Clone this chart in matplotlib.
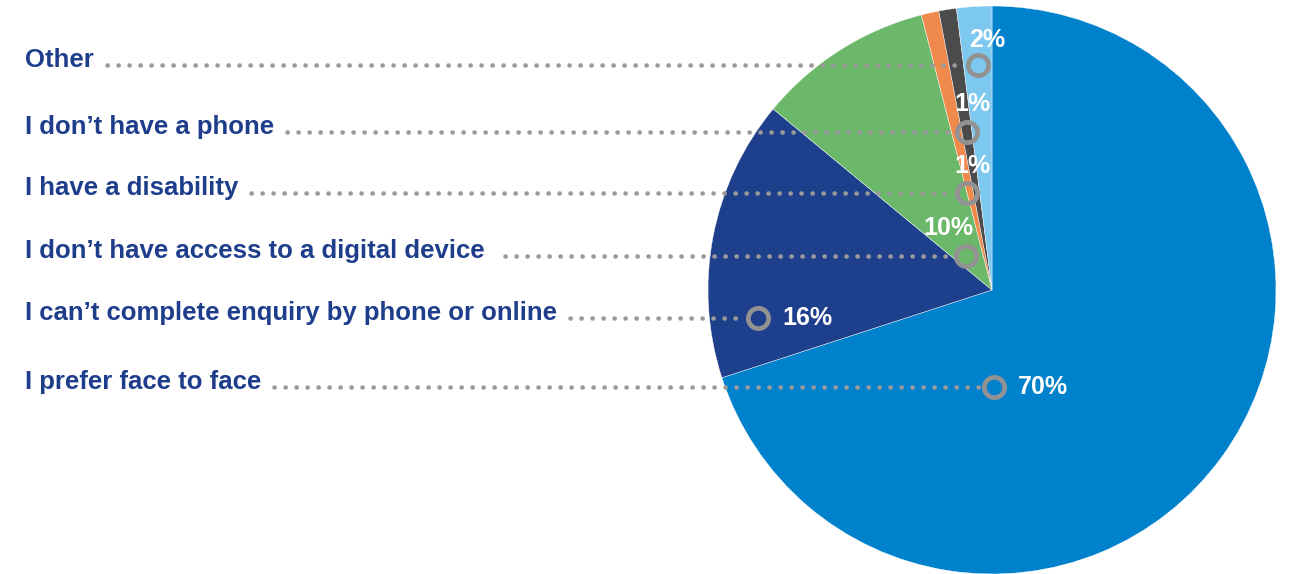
import matplotlib.pyplot as plt

plt.rcParams['font.family'] = ['Liberation Sans', 'DejaVu Sans']

# data, in pie order (clockwise from 12 o'clock)
reasons = ['I prefer face to face', 'I can\u2019t complete enquiry by phone or online',
           'I don\u2019t have access to a digital device ', 'I have a disability',
           'I don\u2019t have a phone', 'Other']
shares = [70, 16, 10, 1, 1, 2]
pct_labels = ['70%', '16%', '10%', '1%', '1%', '2%']
colors = ['#0081CB', '#1E3F8C', '#6CB86B', '#EF8A4C', '#4B4B4B', '#7CC8EE']

W, H = 1291, 574
fig = plt.figure(figsize=(W / 100, H / 100), dpi=100)
ax = fig.add_axes([0, 0, 1, 1])

cx, cy, R = 992, H - 290, 284
ax.pie(shares, colors=colors, startangle=90, counterclock=False,
       center=(cx, cy), radius=R, frame=True,
       wedgeprops=dict(edgecolor='white', linewidth=0.3))
ax.set_xlim(0, W)
ax.set_ylim(0, H)
ax.set_aspect('equal')
ax.axis('off')

# annotation layout (pixel positions of marker rings, from top)
marker_px = [(994, 387), (758, 318), (966, 256), (967, 193), (967, 132), (978, 65)]
pct_px = [(1018, 387, 'left'), (782, 318, 'left'), (948, 228, 'center'),
          (972, 166, 'center'), (972, 104, 'center'), (987, 40, 'center')]

fig.canvas.draw()
rend = fig.canvas.get_renderer()
inv = ax.transData.inverted()

for i, name in enumerate(reasons):
    mx, my = marker_px[i]
    my = H - my
    t = ax.text(25, my - 2, name, fontsize=18.5, fontweight='bold', color='#1E3E8C',
                ha='left', va='baseline')
    bb = t.get_window_extent(renderer=rend)
    x0 = inv.transform((bb.x1, bb.y0))[0] + 13
    ax.plot([x0, mx - 14], [my, my], color='#9A9A9A', lw=3.3,
            linestyle=(0, (0.05, 2.35)), dash_capstyle='round')
    ax.plot(mx, my, 'o', ms=14.6, mfc='none', mec='#929292', mew=3.4)
    px, py, ha = pct_px[i]
    ax.text(px, H - py, pct_labels[i], fontsize=18, fontweight='bold', color='white',
            ha=ha, va='center')

fig.savefig('out.png', dpi=100)
